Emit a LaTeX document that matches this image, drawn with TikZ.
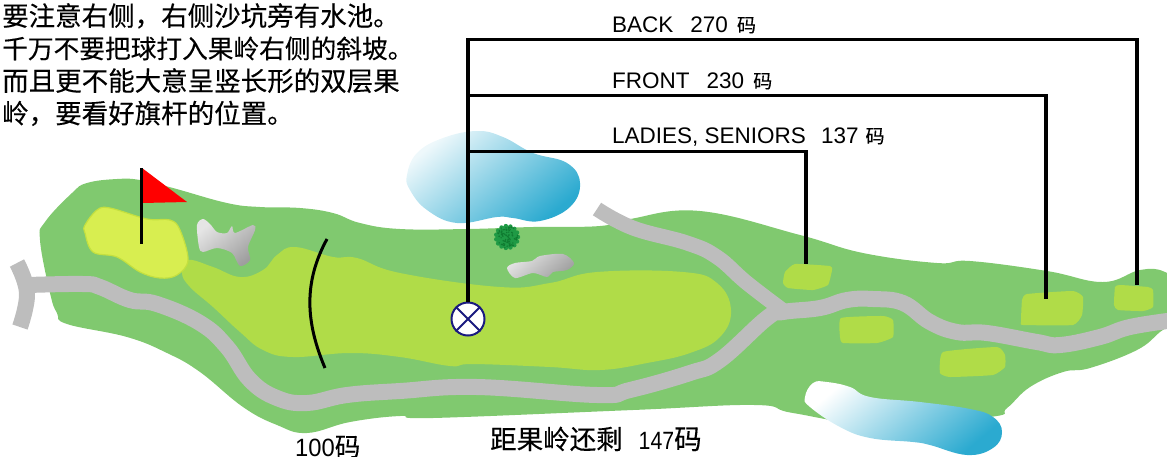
\documentclass[tikz,border=0pt]{standalone}
\usepackage{fontspec}
\setmainfont[Kerning=Off]{Liberation Sans}
\newfontfamily\cjk[FakeBold=0.25]{Noto Sans CJK SC}
\definecolor{rough}{HTML}{80C96F}
\definecolor{fair}{HTML}{B0DC48}
\definecolor{putt}{HTML}{D8EE50}
\definecolor{puttedge}{HTML}{C4E03F}
\definecolor{roadgray}{HTML}{BDBDBD}
\definecolor{water}{HTML}{2BAAD0}
\definecolor{navy}{HTML}{1A1A80}
\definecolor{treeg}{HTML}{1F9A45}
\definecolor{treed}{HTML}{0F7A30}
\definecolor{flagred}{HTML}{FF0000}
\tikzset{
  x=1pt,y=-1pt,
  roughfill/.style={fill=rough},
  fairfill/.style={fill=fair},
  puttfill/.style={fill=putt,draw=puttedge,line width=1.2pt},
  road/.style={draw=roadgray,line width=16pt,line join=round},
  pond/.style={left color=white,right color=water,shading angle=40},
  pondtint/.style={left color=water!8!white,right color=water,shading angle=40},
  sand/.style={left color=white!90!black,middle color=white!88!black,right color=white!62!black,shading angle=40},
  leader/.style={draw=black,line width=3.2pt,line join=miter},
  pin/.style={draw=black,line width=3pt},
  lab/.style={anchor=base west,inner sep=0pt,font=\fontsize{22.5}{26}\selectfont},
  note/.style={anchor=north west,inner sep=0pt,align=left,font=\cjk\fontsize{26.5}{32.5}\selectfont},
  distlabel/.style={anchor=base west,inner sep=0pt,font=\cjk\fontsize{26.5}{30}\selectfont},
  ball/.style={circle,draw=navy,fill=white,line width=2pt,minimum size=33pt,inner sep=0pt},
}
\newcommand{\yd}{{\cjk\fontsize{19}{22}\selectfont 码}}
\newcommand{\narrownum}[2]{\scalebox{#1}[1]{\fontsize{25}{28}\selectfont\rmfamily #2}}
\begin{document}
\begin{tikzpicture}
\useasboundingbox (0,0) rectangle (1167,456);
% rough
\fill[roughfill] plot[smooth cycle,tension=.7] coordinates {
(40,240)(45,222)(72,193)(87,183)(117,179)(140,180)(173,188)(227,203)(260,207)(300,208)(333,213)(360,223)(400,229)(467,229)(533,227)(600,226)(630,219)(700,211)(800,235)(863,253)(937,263)(970,261)(1047,271)(1103,282)(1140,270)(1165,272)(1185,290)(1175,320)(1160,332)(1137,350)(1090,368)(1063,372)(1030,387)(1007,408)(990,417)(880,425)(793,413)(755,405)(633,410)(433,418)(400,416)(350,422)(307,433)(277,425)(243,407)(200,372)(167,353)(127,337)(67,324)(57,313)(50,293)};
% fairway
\fill[fairfill] plot[smooth cycle,tension=.7] coordinates {
(188,260)(213,267)(240,277)(263,270)(277,255)(295,247)(333,257)(357,258)(400,273)(500,287)(550,283)(597,272)(683,272)(717,283)(731,310)(720,337)(690,353)(647,363)(600,370)(550,367)(473,364)(450,366)(400,357)(350,353)(293,357)(263,350)(240,332)(213,307)(190,287)(182,273)};
% putting green
\filldraw[puttfill] plot[smooth cycle,tension=.6] coordinates {
(85,225)(97,210)(110,208)(147,219)(170,220)(180,230)(188,260)(177,275)(160,278)(140,272)(117,257)(93,252)(85,233)};
% tees
\fill[fairfill] plot[smooth cycle,tension=.25] coordinates {(795,264)(830,266)(832,270)(828,285)(813,290)(788,288)(783,283)(785,272)};
\fill[fairfill] plot[smooth cycle,tension=.25] coordinates {(1022,300)(1027,294)(1073,291)(1083,297)(1082,315)(1073,325)(1023,325)(1021,322)};
\fill[fairfill] plot[smooth cycle,tension=.25] coordinates {(1115,287)(1120,285)(1148,287)(1153,290)(1153,307)(1143,311)(1118,310)(1114,305)};
\fill[fairfill] plot[smooth cycle,tension=.25] coordinates {(841,318)(883,316)(893,320)(893,337)(877,343)(843,343)(840,337)};
\fill[fairfill] plot[smooth cycle,tension=.25] coordinates {(943,352)(997,347)(1005,355)(1005,367)(993,375)(950,377)(940,373)};
% roads
\draw[road] plot[smooth,tension=.7] coordinates {(17,263)(27,293)(20,327)};
\draw[road] plot[smooth,tension=.7] coordinates {(28,285)(83,284)(100,287)(130,300)(157,304)(200,323)(227,347)(250,380)(277,398)(307,403)(347,395)(400,391)(477,387)(597,395)(630,390)(690,373)(720,360)(767,318)(783,312)(820,308)(847,300)(873,299)(903,303)(930,322)(957,332)(987,333)(1037,342)(1060,345)(1100,337)(1130,327)(1175,320)};
\draw[road,line width=15pt] plot[smooth,tension=.7] coordinates {(597,209)(633,228)(687,243)(717,257)(747,283)(785,312)};
% ponds
\shade[pondtint] plot[smooth cycle,tension=.7] coordinates {(407,175)(417,153)(443,138)(477,131)(503,137)(533,153)(567,163)(580,183)(570,207)(540,221)(513,218)(497,217)(457,223)(427,210)(410,190)};
\shade[pond] plot[smooth cycle,tension=.7] coordinates {(805,397)(813,383)(827,382)(850,387)(870,397)(920,402)(970,409)(993,417)(1002,432)(993,448)(967,455)(930,445)(913,442)(870,438)(840,427)(810,407)};
% bunkers
\shade[sand] plot[smooth cycle,tension=.5] coordinates {(197,225)(203,219)(210,224)(217,232)(227,233)(232,226)(235,233)(253,225)(255,230)(248,247)(250,260)(240,266)(232,253)(217,248)(203,252)(199,247)};
\shade[sand] plot[smooth cycle,tension=.5] coordinates {(507,268)(515,263)(532,261)(540,256)(563,254)(574,263)(567,270)(553,272)(547,277)(533,273)(515,278)};
% tree
\fill[treeg] (507,237) circle[radius=11.5];
\foreach \a in {0,24,...,345}{\fill[treeg] (507,237) ++(\a:11) circle[radius=2.2];}
\pgfmathsetseed{11}
\foreach \i in {1,...,90}{
  \pgfmathsetmacro{\ang}{rnd*360}
  \pgfmathsetmacro{\rad}{sqrt(rnd)*11}
  \fill[treed] (507,237) ++(\ang:\rad) circle[radius=.8];
}
% flag
\fill[flagred] (142,168) -- (187,202) -- (142,203) -- cycle;
\draw[pin] (141,168) -- (141,244);
% 100 yd arc
\draw[pin] (327,239) .. controls (303,283) and (306,323) .. (325,368);
% marker and leaders
\node[ball] (ball) at (468,319) {};
\draw[navy,line width=1.8pt] (ball.north west) -- (ball.south east) (ball.north east) -- (ball.south west);
\coordinate (backtee) at (1137,285);
\coordinate (fronttee) at (1046,299);
\coordinate (ladiestee) at (806,264);
\coordinate (backcorner) at (1137,39.5);
\coordinate (frontcorner) at (1046,95.5);
\coordinate (ladiescorner) at (806,151.5);
\draw[leader] (ball.north) |- (backcorner) -- (backtee);
\draw[leader] (ball.north) |- (frontcorner) -- (fronttee);
\draw[leader] (ball.north) |- (ladiescorner) -- (ladiestee);
% labels
\node[lab] (lback) at (612,32) {BACK\hspace{17pt}270\hspace{9pt}\yd};
\node[lab] (lfront) at (612,88) {FRONT\hspace{17pt}230\hspace{9pt}\yd};
\node[lab] (lladies) at (612,143) {LADIES, SENIORS\hspace{15pt}137\hspace{7pt}\yd};
\node[note] (advice) at (2,3) {要注意右侧，右侧沙坑旁有水池。\\{\fontsize{25.7}{32.5}\selectfont 千万不要把球打入果岭右侧的斜坡。}\\而且更不能大意呈竖长形的双层果\\岭，要看好旗杆的位置。};
\node[distlabel] (hundred) at (295,456) {\narrownum{.95}{100}{\cjk\fontsize{25.5}{30}\selectfont 码}};
\node[distlabel] (remain) at (490,449) {距果岭还剩\hspace{16pt}\narrownum{.85}{147}{\cjk\fontsize{27.5}{30}\selectfont 码}};
\end{tikzpicture}
\end{document}
